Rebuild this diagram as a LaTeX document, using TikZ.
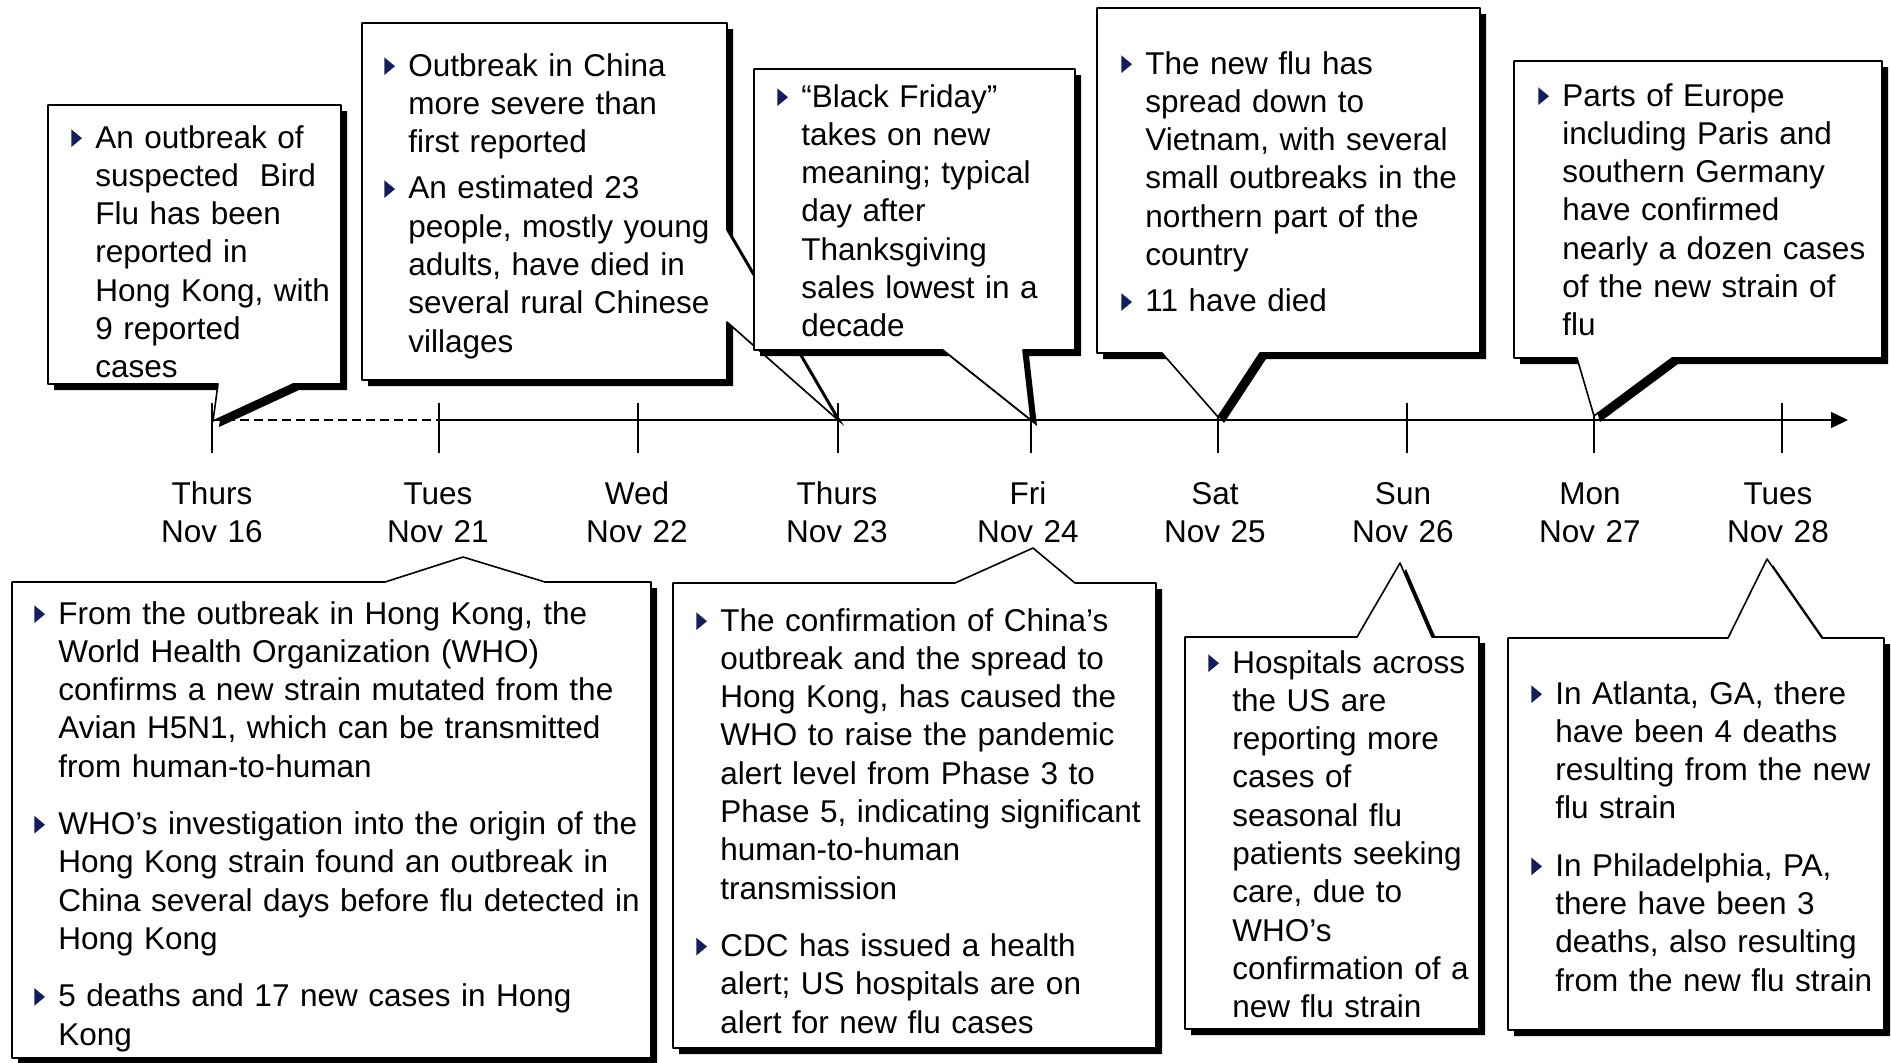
\documentclass[tikz,border=0pt]{standalone}
\usepackage{fontspec}
\setmainfont{Liberation Sans}
\usetikzlibrary{arrows.meta}

\definecolor{flunavy}{RGB}{18,30,96}

% bullet and list items inside the callouts
\newcommand{\flubullet}{\tikz[baseline=0pt]\fill[flunavy] (0pt,0.5pt) -- (5.3pt,4.9pt) -- (0pt,9.3pt) -- cycle;}
\newcommand{\fluitem}[1]{\leftskip=12pt\relax\noindent\hspace*{-12pt}\makebox[12pt][l]{\flubullet}#1\par}
\newcommand{\topgap}{\vspace{4pt}}
\newcommand{\botgap}{\vspace{9.5pt}}
\newcommand{\callout}[1]{\fill[calloutshadow] #1; \filldraw[calloutbox] #1;}

\tikzset{
  calloutshadow/.style={fill=black, xshift=3pt, yshift=-3pt},
  calloutbox/.style={fill=white, draw=black, line width=0.8pt},
  flutext/.style={anchor=base west, inner sep=0pt, text width=320pt, align=left, font=\fontsize{15.75pt}{19.15pt}\selectfont},
  datelabel/.style={anchor=base, inner sep=0pt, text width=70pt, align=center, font=\fontsize{15.75pt}{19.3pt}\selectfont},
  axisline/.style={line width=0.75pt}
}

\begin{document}
\begin{tikzpicture}[x=0.5pt, y=-0.5pt, line join=round]
	\useasboundingbox (0,0) rectangle (1891,1062);
	% time axis
	\foreach \x/\lx/\nm/\dd in {212/212/16/Thurs, 439/438/21/Tues, 638/637/22/Wed, 838/837/23/Thurs, 1031/1028/24/Fri, 1218/1215/25/Sat, 1407/1403/26/Sun, 1594/1590/27/Mon, 1782/1778/28/Tues}{
		\coordinate (d\nm) at (\x,420);
		\draw[axisline] (\x,403) -- (\x,453);
		\node[datelabel] (lab\nm) at (\lx,504) {\dd\\Nov \nm};
	}
	\coordinate (axisend) at (1848,420);
	\draw[axisline, dash pattern=on 4.5pt off 2.5pt] (d16) -- (d21);
	\draw[axisline, -{Triangle[length=8.5pt,width=8pt]}] (d21) -- (axisend);

	% callouts above the axis
	\callout{(48,105) -- (341,105) -- (341,384) -- (293,384) -- (213,421) -- (218,384) -- (48,384) -- cycle}
	\node[flutext] (top16) at (71,148) {\fluitem{An outbreak of\\suspected\ \ Bird\\Flu has been\\reported in\\Hong Kong, with\\9 reported\\cases}};

	\callout{(362,23) -- (727,23) -- (727,230) -- (838,420) -- (727,322) -- (727,380) -- (362,380) -- cycle}
	\node[flutext] (top21) at (384,76) {\fluitem{Outbreak in China\\more severe than\\first reported}\topgap
		\fluitem{An estimated 23\\people, mostly young\\adults, have died in\\several rural Chinese\\villages}};

	\callout{(754,69) -- (1075,69) -- (1075,350) -- (1023,350) -- (1031,420) -- (943,350) -- (754,350) -- cycle}
	\node[flutext] (top24) at (777,107) {\fluitem{“Black Friday”\\takes on new\\meaning; typical\\day after\\Thanksgiving\\sales lowest in a\\decade}};

	\callout{(1097,8) -- (1480,8) -- (1480,353) -- (1260,353) -- (1218,417) -- (1162,353) -- (1097,353) -- cycle}
	\node[flutext] (top25) at (1121,74) {\fluitem{The new flu has\\spread down to\\Vietnam, with several\\small outbreaks in the\\northern part of the\\country}\topgap
		\fluitem{11 have died}};

	\callout{(1514,61) -- (1882,61) -- (1882,358) -- (1672,358) -- (1594,416) -- (1577,358) -- (1514,358) -- cycle}
	\node[flutext] (top27) at (1538,106) {\fluitem{Parts of Europe\\including Paris and\\southern Germany\\have confirmed\\nearly a dozen cases\\of the new strain of\\flu}};

	% callouts below the axis
	\callout{(12,582) -- (385,582) -- (463,557) -- (545,582) -- (651,582) -- (651,1058) -- (12,1058) -- cycle}
	\node[flutext] (bot21) at (34,624) {\fluitem{From the outbreak in Hong Kong, the\\World Health Organization (WHO)\\confirms a new strain mutated from the\\Avian H5N1, which can be transmitted\\from human-to-human}\botgap
		\fluitem{WHO’s investigation into the origin of the\\Hong Kong strain found an outbreak in\\China several days before flu detected in\\Hong Kong}\botgap
		\fluitem{5 deaths and 17 new cases in Hong\\Kong}};

	\callout{(673,583) -- (955,583) -- (1033,548) -- (1075,583) -- (1156,583) -- (1156,1048) -- (673,1048) -- cycle}
	\node[flutext] (bot24) at (696,631) {\fluitem{The confirmation of China’s\\outbreak and the spread to\\Hong Kong, has caused the\\WHO to raise the pandemic\\alert level from Phase 3 to\\Phase 5, indicating significant\\human-to-human\\transmission}\botgap
		\fluitem{CDC has issued a health\\alert; US hospitals are on\\alert for new flu cases}};

	\callout{(1185,637) -- (1357,637) -- (1400,563) -- (1432,637) -- (1479,637) -- (1479,1029) -- (1185,1029) -- cycle}
	\node[flutext] (bot26) at (1208,673) {\fluitem{Hospitals across\\the US are\\reporting more\\cases of\\seasonal flu\\patients seeking\\care, due to\\WHO’s\\confirmation of a\\new flu strain}};

	\callout{(1508,638) -- (1728,638) -- (1767,559) -- (1822,638) -- (1884,638) -- (1884,1030) -- (1508,1030) -- cycle}
	\node[flutext] (bot28) at (1531,704) {\fluitem{In Atlanta, GA, there\\have been 4 deaths\\resulting from the new\\flu strain}\botgap
		\fluitem{In Philadelphia, PA,\\there have been 3\\deaths, also resulting\\from the new flu strain}};
\end{tikzpicture}
\end{document}
